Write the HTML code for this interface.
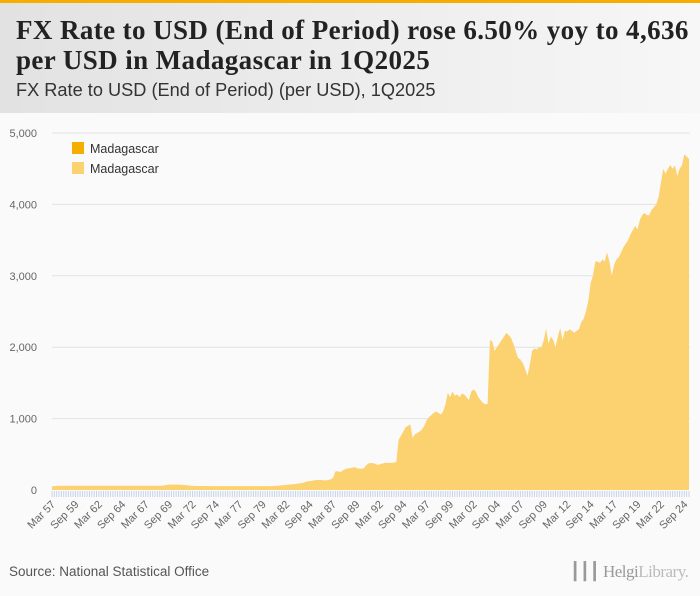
<!DOCTYPE html>
<html><head><meta charset="utf-8"><style>
body{margin:0;width:700px;height:596px;background:#fafafa;font-family:"Liberation Sans",sans-serif;overflow:hidden;position:relative}
#topbar{position:absolute;left:0;top:0;width:700px;height:3px;background:#f5ad00}
#header{position:absolute;left:0;top:3px;width:700px;height:110px;background:linear-gradient(90deg,#e2e2e2,#f7f7f7)}
#title{position:absolute;left:16px;top:15px;font-family:"Liberation Serif",serif;font-weight:bold;font-size:27px;letter-spacing:0.4px;line-height:30px;color:#222;white-space:nowrap}
#subtitle{position:absolute;left:16px;top:80px;font-size:18.2px;color:#333;white-space:nowrap}
#source{position:absolute;left:9px;top:564px;font-size:13.5px;color:#555}
#logo{position:absolute;left:570px;top:562px;font-family:"Liberation Serif",serif;font-size:17px;color:#999;letter-spacing:-0.5px}
</style></head><body>
<div id="topbar"></div>
<div id="header"></div>
<div id="title">FX Rate to USD (End of Period) rose 6.50% yoy to 4,636<br>per USD in Madagascar in 1Q2025</div>
<div id="subtitle">FX Rate to USD (End of Period) (per USD), 1Q2025</div>
<svg id="chart" width="700" height="596" style="position:absolute;left:0;top:0"></svg>
<div id="source">Source: National Statistical Office</div>
<div id="logo">&#x2503;&#x2503;&#x2503; Helgi<span style="color:#bbb">Library.</span></div>
<script>
const startYear=1957;
const yTicks=[0,1000,2000,3000,4000,5000];
const values=[
50,55,58,60,
60,60,60,60, 60,60,60,60, 60,60,60,60, 60,60,60,60, 60,60,60,60, 60,60,60,60, 60,60,60,60, 60,60,60,60, 60,60,60,60, 60,60,60,60, 60,60,60,60,
65,72,75,75, 75,75,75,73, 72,70,65,62,
58,57,56,56, 56,56,56,56, 55,55,55,55, 55,55,55,55, 55,55,55,55, 55,55,55,55, 55,55,55,55, 55,55,55,55,
55,55,56,58, 60,62,65,70, 72,75,78,80, 85,90,95,100, 110,120,125,130, 135,140,142,140, 135,135,140,150,
170,260,265,250, 270,290,300,305, 310,320,310,300, 300,300,340,370, 380,375,370,350, 360,370,380,380, 380,380,385,390,
700,760,820,880, 900,920,730,780, 800,820,850,900, 980,1020,1050,1080, 1100,1080,1060,1100, 1200,1360,1300,1380,
1320,1340,1300,1350, 1340,1300,1260,1380, 1410,1380,1300,1260, 1220,1200,1210,2100,
2080,1950,2000,2050, 2100,2150,2200,2170, 2130,2050,1950,1850, 1830,1780,1700,1600, 1750,1950,1980,1970,
2000,2000,2100,2260, 2050,2150,2100,2000, 2150,2270,2100,2230, 2220,2250,2230,2200, 2230,2250,2350,2400,
2500,2650,2900,3000, 3200,3200,3180,3230, 3200,3330,3200,3000, 3150,3230,3260,3330, 3400,3450,3500,3580,
3640,3700,3650,3780, 3850,3880,3850,3850, 3920,3960,4000,4100, 4300,4500,4430,4500, 4550,4500,4550,4400,
4500,4550,4700,4670, 4636];
const qNames=["Mar","Jun","Sep","Dec"];
const NS="http://www.w3.org/2000/svg";
const svg=document.getElementById('chart');
const x0=52,x1=689,yBase=490,yTop=133,yMax=5000;
const X=i=>x0+(x1-x0)*i/(values.length-1);
const Y=v=>yBase-(yBase-yTop)*v/yMax;
function mk(t,a){const e=document.createElementNS(NS,t);for(const k in a)e.setAttribute(k,a[k]);svg.appendChild(e);return e;}
yTicks.forEach(v=>{
  if(v>0){const g=mk('line',{x1:52,x2:690,y1:Y(v),y2:Y(v),stroke:'#e2e2e2','stroke-width':1});
  
  }
  const t=mk('text',{x:37,y:Y(v)+4,'text-anchor':'end','font-size':'11','fill':'#666','font-family':'Liberation Sans, sans-serif'});
  t.textContent=v.toLocaleString('en-US');
  
  
});
let d='M'+X(0)+','+yBase;
values.forEach((v,i)=>{d+=' L'+X(i).toFixed(2)+','+Y(v).toFixed(2);});
d+=' L'+X(values.length-1)+','+yBase+' Z';
const area=mk('path',{d:d,fill:'#fcd271'});


values.forEach((v,i)=>{
  const tk=mk('line',{x1:X(i),x2:X(i),y1:yBase+1,y2:yBase+7,stroke:'#c5d3ea','stroke-width':1});
  
  
  if(i%10===0){
    const yr=String((startYear+Math.floor(i/4))%100).padStart(2,'0');
    const lx=X(i)+4,ly=yBase+15;
    const t=mk('text',{x:lx,y:ly,'text-anchor':'end','font-size':'11','fill':'#666','font-family':'Liberation Sans, sans-serif',transform:`rotate(-45 ${lx} ${ly})`});
    t.textContent=qNames[i%4]+' '+yr;
    
    
  }
});
[['#f5ad00',148],['#fcd271',168]].forEach(([c,y])=>{
  const r=mk('rect',{x:72,y:y-6,width:12,height:12,fill:c});
  
  
  const t=mk('text',{x:90,y:y+5,'font-size':'12.5',fill:'#333','font-family':'Liberation Sans, sans-serif'});
  t.textContent='Madagascar';
  
  
});
</script>
</body></html>
